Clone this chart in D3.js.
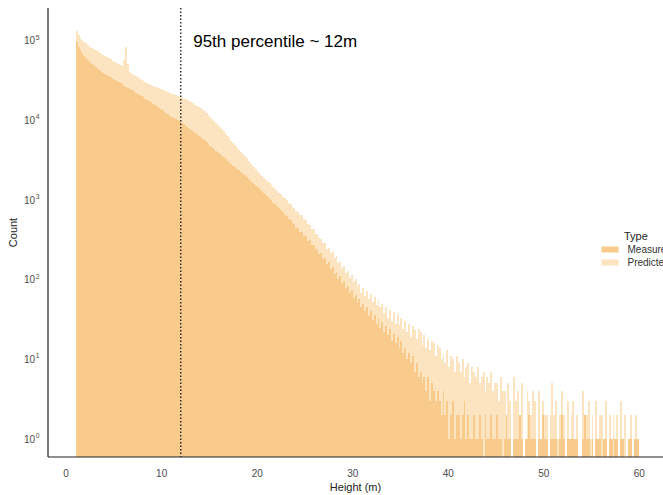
<!DOCTYPE html>
<html>
<head>
<meta charset="utf-8">
<script src="https://cdn.jsdelivr.net/npm/d3@7"></script>
<style>
  body { margin: 0; background: #fff; }
  svg { display: block; font-family: "Liberation Sans", Arial, Helvetica, sans-serif; }
</style>
</head>
<body>
<svg id="chart" width="663" height="495"></svg>
<script>
// Histogram of canopy heights: counts per 0.2 m bin, starting at 1 m.
const binStart = 1.0;
const binWidth = 0.2;

const measured = [
  94700, 83400, 75100, 69500, 64400, 60300, 57100, 54100, 51400, 49000,
  46600, 44300, 42100, 40600, 39200, 38000, 36800, 35500, 34400, 33300,
  32200, 31200, 30100, 29200, 28200, 27200, 26400, 25500, 24600, 23900,
  23100, 22200, 21400, 20700, 19900, 19300, 18600, 17900, 17300, 16700,
  16100, 15500, 14900, 14300, 13800, 13300, 12800, 12300, 11800, 11400,
  11000, 10700, 10300, 9970, 9640, 9280, 8910, 8560, 8220, 7870,
  7560, 7260, 6970, 6670, 6410, 6150, 5860, 5580, 5310, 5060,
  4800, 4570, 4350, 4140, 3950, 3760, 3570, 3410, 3260, 3110,
  2970, 2840, 2700, 2580, 2460, 2350, 2240, 2140, 2040, 1940,
  1840, 1750, 1670, 1590, 1510, 1440, 1370, 1300, 1230, 1160,
  1100, 1030, 995, 925, 890, 830, 800, 740, 715, 655,
  635, 580, 565, 510, 500, 450, 445, 400, 395, 350,
  350, 305, 310, 270, 275, 236, 242, 208, 213, 180,
  188, 158, 164, 137, 143, 119, 126, 103, 110, 90,
  95, 78, 84, 67, 74, 58, 65, 51, 57, 45,
  50, 40, 45, 35, 40, 31, 36, 28, 33, 25,
  29, 22, 26, 20, 24, 17, 21, 16, 19, 14,
  17, 12, 14, 10, 12, 9, 11, 7, 9, 6,
  7, 5, 6, 4, 6, 3, 5, 4, 3, 4,
  3, 2, 4, 2, 3, 1, 2, 3, 1, 2,
  2, 1, 2, 3, 1, 2, 1, 1, 2, 1,
  1, 2, 1, 0, 2, 1, 1, 2, 1, 1,
  2, 1, 1, 0, 1, 2, 1, 1, 0, 1,
  1, 1, 2, 1, 0, 1, 1, 2, 1, 1,
  1, 0, 1, 1, 2, 1, 1, 0, 1, 1,
  1, 1, 0, 1, 2, 1, 0, 1, 1, 1,
  1, 1, 1, 0, 0, 1, 2, 1, 1, 0,
  1, 0, 1, 1, 1, 0, 1, 1, 0, 1,
  1, 0, 1, 1, 0, 1, 1, 0, 0, 1,
  1, 0, 1, 1, 1
];

const predicted = [
  131500, 117800, 106600, 101400, 96500, 92000, 87500, 83400, 80600, 77800,
  75300, 73000, 70500, 68300, 65900, 63800, 61800, 59800, 57900, 56000,
  54200, 52500, 50700, 49100, 48100, 56900, 82800, 50700, 39900, 38400,
  37000, 35700, 34500, 33300, 32300, 31400, 30500, 29600, 28700, 27900,
  27100, 26400, 25800, 25300, 24700, 24100, 23600, 23100, 22500, 22100,
  21600, 21100, 20700, 20200, 19800, 19300, 18700, 18200, 17700, 17300,
  16800, 16300, 15700, 15200, 14700, 14200, 13500, 12900, 12300, 11700,
  11100, 10500, 9890, 9300, 8760, 8240, 7730, 7230, 6790, 6350,
  5940, 5560, 5200, 4880, 4570, 4280, 4000, 3760, 3530, 3320,
  3110, 2920, 2740, 2570, 2420, 2270, 2130, 2010, 1900, 1800,
  1700, 1620, 1520, 1450, 1360, 1300, 1210, 1170, 1090, 1050,
  990, 920, 895, 820, 800, 735, 715, 655, 640, 575,
  560, 500, 490, 435, 430, 375, 372, 330, 325, 285,
  290, 245, 250, 215, 222, 185, 195, 160, 168, 140,
  148, 122, 130, 104, 114, 92, 101, 80, 88, 68,
  78, 62, 71, 57, 66, 52, 61, 48, 56, 45,
  50, 38, 45, 33, 42, 30, 39, 28, 36, 27,
  33, 24, 30, 22, 28, 19, 26, 23, 18, 24,
  22, 15, 20, 14, 18, 13, 17, 16, 11, 15,
  14, 10, 12, 9, 13, 8, 11, 10, 7, 11,
  9, 7, 10, 6, 8, 9, 5, 8, 7, 6,
  8, 5, 6, 7, 4, 6, 5, 7, 4, 5,
  5, 3, 6, 4, 4, 2, 5, 3, 0, 6,
  3, 4, 2, 5, 0, 1, 4, 3, 2, 4,
  3, 0, 4, 1, 3, 2, 2, 0, 2, 5,
  2, 3, 1, 2, 4, 2, 0, 3, 1, 2,
  3, 1, 2, 0, 0, 4, 1, 2, 3, 1,
  2, 0, 3, 1, 2, 2, 1, 3, 0, 2,
  1, 2, 0, 2, 0, 3, 1, 2, 0, 1,
  2, 0, 1, 2, 1
];

const seriesNames = ["Measured", "Predicted"];
const xTicks = [0, 10, 20, 30, 40, 50, 60];
const yTickExponents = [0, 1, 2, 3, 4, 5];
const percentileHeight = 12;
const annotationText = "95th percentile ~ 12m";

// Layout
const W = 663, H = 495;
const panel = { left: 48, top: 8, right: 667, bottom: 457 };
const colors = { Measured: "#F8CB8C", Predicted: "#FDE4C1" };

const svg = d3.select("#chart");

const x = d3.scaleLinear().domain([-1.9, 62.9]).range([panel.left, panel.right]);
const y = d3.scaleLog().domain([0.594, 255900]).range([panel.bottom, panel.top]);

svg.append("defs").append("clipPath").attr("id", "panelClip")
  .append("rect")
  .attr("x", panel.left).attr("y", panel.top)
  .attr("width", W - panel.left).attr("height", panel.bottom - panel.top);

const plot = svg.append("g").attr("clip-path", "url(#panelClip)");

function toBins(values) {
  return values.map((v, i) => ({
    lo: binStart + i * binWidth,
    hi: binStart + (i + 1) * binWidth,
    count: v
  })).filter(d => d.count > 0);
}

// Predicted drawn first, Measured on top
[["Predicted", predicted], ["Measured", measured]].forEach(([name, vals]) => {
  plot.append("g")
    .attr("class", "bars-" + name)
    .attr("shape-rendering", "crispEdges")
    .selectAll("rect")
    .data(toBins(vals))
    .join("rect")
    .attr("x", d => x(d.lo))
    .attr("width", d => x(d.hi) - x(d.lo))
    .attr("y", d => y(d.count))
    .attr("height", d => panel.bottom - y(d.count))
    .attr("fill", colors[name]);
});

// 95th percentile marker
plot.append("line")
  .attr("x1", x(percentileHeight)).attr("x2", x(percentileHeight))
  .attr("y1", panel.top).attr("y2", panel.bottom)
  .attr("stroke", "#111").attr("stroke-width", 1.3)
  .attr("stroke-dasharray", "1.4,2.1");

svg.append("text")
  .attr("x", x(13.3)).attr("y", y(1e5))
  .attr("dy", "0.36em")
  .attr("font-size", 17)
  .attr("fill", "#000")
  .text(annotationText);

// Axis lines
svg.append("line")
  .attr("x1", panel.left).attr("x2", panel.left)
  .attr("y1", panel.top).attr("y2", panel.bottom)
  .attr("stroke", "#222").attr("stroke-width", 1.2);
svg.append("line")
  .attr("x1", panel.left).attr("x2", W)
  .attr("y1", panel.bottom).attr("y2", panel.bottom)
  .attr("stroke", "#222").attr("stroke-width", 1.2);

// X tick labels
svg.append("g").selectAll("text")
  .data(xTicks).join("text")
  .attr("x", d => x(d)).attr("y", 476.5)
  .attr("text-anchor", "middle")
  .attr("font-size", 10)
  .attr("fill", "#4d4d4d")
  .text(d => d);

// Y tick labels as powers of ten
const yLab = svg.append("g").selectAll("text")
  .data(yTickExponents).join("text")
  .attr("x", 24).attr("y", d => y(Math.pow(10, d)) + 3.6)
  .attr("text-anchor", "start")
  .attr("font-size", 10)
  .attr("fill", "#4d4d4d");
yLab.append("tspan").text("10");
yLab.append("tspan")
  .attr("dx", 0.5).attr("dy", -4.5)
  .attr("font-size", 6.8)
  .text(d => d);

// Axis titles
svg.append("text")
  .attr("x", (panel.left + W) / 2).attr("y", 491)
  .attr("text-anchor", "middle")
  .attr("font-size", 11)
  .attr("fill", "#222")
  .text("Height (m)");

svg.append("text")
  .attr("transform", `translate(17, ${(panel.top + panel.bottom) / 2}) rotate(-90)`)
  .attr("text-anchor", "middle")
  .attr("font-size", 11)
  .attr("fill", "#222")
  .text("Count");

// Legend (runs past the right edge of the figure)
const legend = svg.append("g");
legend.append("text")
  .attr("x", 624).attr("y", 239.5)
  .attr("font-size", 11)
  .attr("fill", "#222")
  .text("Type");
seriesNames.forEach((name, i) => {
  legend.append("rect")
    .attr("x", 601.5).attr("y", 246.5 + i * 13)
    .attr("width", 17).attr("height", 6)
    .attr("fill", colors[name]);
  legend.append("text")
    .attr("x", 627.5).attr("y", 252.5 + i * 13)
    .attr("font-size", 10)
    .attr("fill", "#333")
    .text(name);
});
</script>
</body>
</html>
